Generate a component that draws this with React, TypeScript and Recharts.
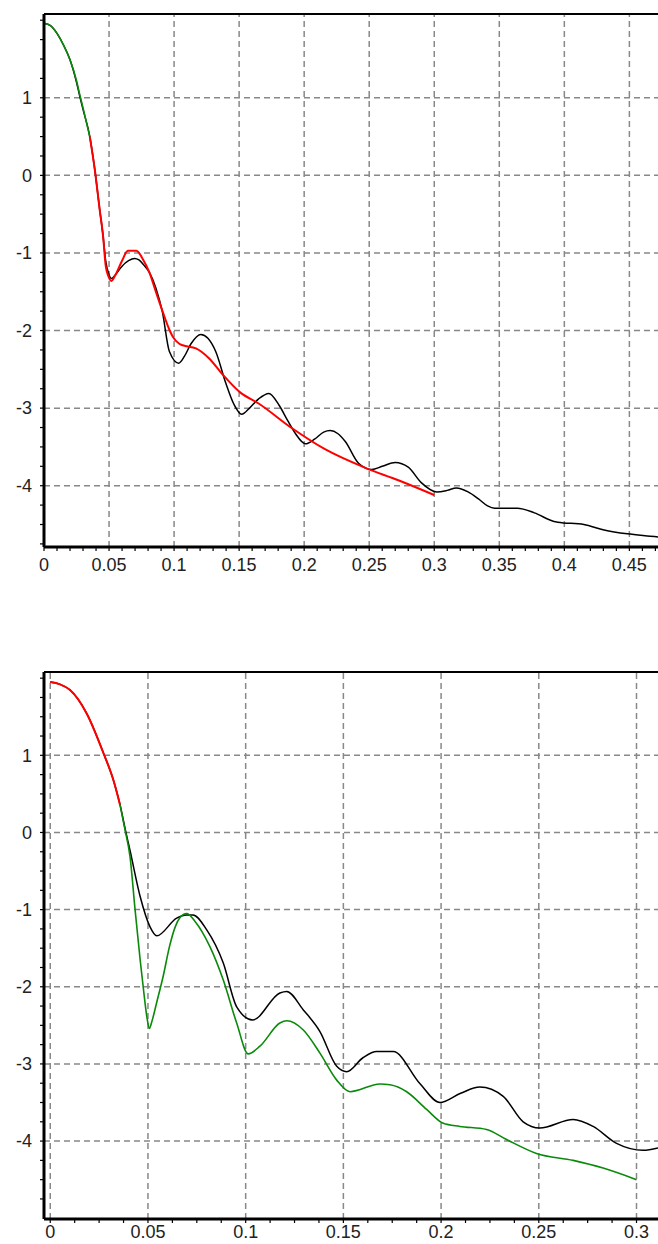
import React from 'react';
import { LineChart, Line, XAxis, YAxis, ReferenceLine } from 'recharts';

// ---------- Top chart data (x, value) ----------
const topBlack: [number, number][] = [
  [0, 1.96], [0.005, 1.93], [0.01, 1.83], [0.015, 1.68], [0.02, 1.49], [0.025, 1.2],
  [0.0275, 1.02], [0.03, 0.85], [0.0352, 0.5], [0.039, 0.08], [0.0428, -0.44],
  [0.0454, -0.78], [0.0474, -1.1], [0.05, -1.28], [0.0518, -1.33], [0.055, -1.28],
  [0.06, -1.17], [0.065, -1.1], [0.0696, -1.07], [0.073, -1.09], [0.077, -1.16],
  [0.081, -1.25], [0.086, -1.45], [0.091, -1.76], [0.0964, -2.27], [0.1035, -2.42],
  [0.108, -2.33], [0.113, -2.17], [0.1206, -2.05], [0.126, -2.1], [0.132, -2.27],
  [0.1398, -2.68], [0.146, -2.95], [0.152, -3.08], [0.158, -3.0], [0.165, -2.88],
  [0.1729, -2.81], [0.1806, -2.96], [0.187, -3.15], [0.193, -3.32], [0.201, -3.46],
  [0.208, -3.4], [0.215, -3.31], [0.22, -3.29], [0.226, -3.33], [0.2316, -3.43],
  [0.2418, -3.71], [0.252, -3.79], [0.26, -3.75], [0.27, -3.7], [0.28, -3.76],
  [0.29, -3.96], [0.302, -4.08], [0.31, -4.06], [0.317, -4.03], [0.326, -4.08],
  [0.334, -4.17], [0.341, -4.26], [0.3464, -4.29], [0.364, -4.29], [0.377, -4.35],
  [0.392, -4.46], [0.395, -4.47], [0.415, -4.5], [0.4305, -4.57], [0.4484, -4.62],
  [0.466, -4.65], [0.472, -4.66],
];
const topGreen: [number, number][] = [
  [0, 1.96], [0.005, 1.93], [0.01, 1.83], [0.015, 1.68], [0.02, 1.49], [0.025, 1.22],
  [0.0275, 1.04], [0.03, 0.87], [0.0352, 0.5],
];
const topRed: [number, number][] = [
  [0.0352, 0.5], [0.039, 0.08], [0.0428, -0.44], [0.0454, -0.78], [0.0474, -1.16],
  [0.0495, -1.3], [0.0518, -1.36], [0.055, -1.28], [0.06, -1.1], [0.0645, -0.97],
  [0.071, -0.97], [0.076, -1.08], [0.081, -1.25], [0.086, -1.5], [0.0913, -1.76],
  [0.0964, -1.99], [0.099, -2.08], [0.104, -2.17], [0.1066, -2.19], [0.1168, -2.23],
  [0.127, -2.36], [0.137, -2.56], [0.151, -2.8], [0.165, -2.94], [0.1907, -3.26],
  [0.216, -3.53], [0.247, -3.77], [0.2724, -3.93], [0.3, -4.12],
];

// ---------- Bottom chart data ----------
const botBlack: [number, number][] = [
  [0, 1.95], [0.005, 1.92], [0.01, 1.85], [0.0187, 1.54], [0.0272, 1.03], [0.0323, 0.68],
  [0.0357, 0.36], [0.0383, 0.05], [0.0408, -0.23], [0.046, -0.83], [0.051, -1.22],
  [0.0545, -1.34], [0.0647, -1.11], [0.0698, -1.07], [0.073, -1.07], [0.08, -1.26],
  [0.0885, -1.69], [0.0954, -2.26], [0.1035, -2.43], [0.1175, -2.08], [0.121, -2.06],
  [0.1295, -2.3], [0.138, -2.58], [0.1466, -3.03], [0.1517, -3.1], [0.16, -2.92],
  [0.167, -2.84], [0.1755, -2.84], [0.189, -3.25], [0.1994, -3.5], [0.21, -3.38],
  [0.2198, -3.3], [0.2318, -3.42], [0.242, -3.75], [0.2505, -3.83], [0.2676, -3.72],
  [0.2778, -3.81], [0.2898, -4.03], [0.3034, -4.12], [0.311, -4.09],
];
const botRed: [number, number][] = [
  [0, 1.95], [0.005, 1.92], [0.01, 1.85], [0.0187, 1.54], [0.0272, 1.03], [0.0323, 0.68],
  [0.0357, 0.36],
];
const botGreen: [number, number][] = [
  [0.0357, 0.36], [0.0383, 0.03], [0.0408, -0.31], [0.0434, -1.0], [0.046, -1.65],
  [0.048, -2.1], [0.0495, -2.4], [0.0507, -2.54], [0.052, -2.45], [0.0545, -2.2],
  [0.0579, -1.85], [0.061, -1.48], [0.064, -1.22], [0.0665, -1.1], [0.0698, -1.05],
  [0.074, -1.15], [0.0817, -1.48], [0.0885, -1.91], [0.0954, -2.47], [0.1013, -2.87],
  [0.1073, -2.77], [0.1175, -2.47], [0.121, -2.44], [0.1295, -2.56], [0.138, -2.86],
  [0.1466, -3.21], [0.1534, -3.36], [0.1687, -3.26], [0.1738, -3.27], [0.1824, -3.36],
  [0.1926, -3.59], [0.2011, -3.77], [0.2096, -3.81], [0.2233, -3.85], [0.2335, -3.98],
  [0.2488, -4.16], [0.2676, -4.25], [0.2829, -4.35], [0.3, -4.5],
];

// ---------- Axes ----------
const topXMajor = [0, 0.05, 0.1, 0.15, 0.2, 0.25, 0.3, 0.35, 0.4, 0.45];
const topXLabels = ['0', '0.05', '0.1', '0.15', '0.2', '0.25', '0.3', '0.35', '0.4', '0.45'];
const botXMajor = [0, 0.05, 0.1, 0.15, 0.2, 0.25, 0.3];
const botXLabels = ['0', '0.05', '0.1', '0.15', '0.2', '0.25', '0.3'];
const yMajor = [-4, -3, -2, -1, 0, 1];
const yLabels = ['-4', '-3', '-2', '-1', '0', '1'];

const topXDomain: [number, number] = [0, 0.472];
const topYDomain: [number, number] = [-4.79, 2.08];
const botXDomain: [number, number] = [-0.0032, 0.311];
const botYDomain: [number, number] = [-5.01, 2.08];

const steps = (from: number, to: number, step: number) => {
  const out: number[] = [];
  for (let i = 0; from + i * step <= to + 1e-9; i++) out.push(+(from + i * step).toFixed(5));
  return out;
};

const toRows = (pts: [number, number][]) => pts.map(([x, y]) => ({ x, y }));

const FONT = '"Liberation Sans", Arial, sans-serif';
const GRID = '#888888';

const makeTick = (majors: number[], labels: string[], axis: 'x' | 'y') => (props: any) => {
  const { x, y, payload } = props;
  const i = majors.findIndex((m) => Math.abs(m - payload.value) < 1e-6);
  if (i < 0) return <g />;
  if (axis === 'x') {
    return (
      <text x={x} y={y} dy="0.71em" textAnchor="middle" fontFamily={FONT} fontSize={18} fill="#222">
        {labels[i]}
      </text>
    );
  }
  return (
    <text x={x} y={y} dy="0.35em" textAnchor="end" fontFamily={FONT} fontSize={18} fill="#222">
      {labels[i]}
    </text>
  );
};

type PanelProps = {
  height: number;
  top: number;
  xDomain: [number, number];
  yDomain: [number, number];
  xMajor: number[];
  xLabels: string[];
  xMinorStep: number;
  xTickMargin: number;
  series: { pts: [number, number][]; color: string; width: number }[];
};

function Panel({ height, top, xDomain, yDomain, xMajor, xLabels, xMinorStep, xTickMargin, series }: PanelProps) {
  const xTicks = steps(0, xDomain[1], xMinorStep);
  const yTicks = steps(-4.75, 2.0, 0.25).filter((v) => v >= yDomain[0]);
  return (
    <LineChart width={658} height={height} margin={{ top, right: 0, left: 0, bottom: 0 }}>
      <XAxis
        type="number"
        dataKey="x"
        domain={xDomain}
        allowDataOverflow
        ticks={xTicks}
        interval={0}
        height={30}
        axisLine={{ stroke: '#000', strokeWidth: 3 }}
        tickLine={{ stroke: '#000', strokeWidth: 1.2 }}
        tickSize={4}
        tickMargin={xTickMargin}
        tick={makeTick(xMajor, xLabels, 'x')}
      />
      <YAxis
        type="number"
        dataKey="y"
        domain={yDomain}
        allowDataOverflow
        ticks={yTicks}
        interval={0}
        width={44}
        axisLine={{ stroke: '#000', strokeWidth: 3 }}
        tickLine={{ stroke: '#000', strokeWidth: 1.2 }}
        tickSize={4}
        tickMargin={8}
        tick={makeTick(yMajor, yLabels, 'y')}
      />
      {xMajor.map((v) => (
        <ReferenceLine key={'gx' + v} x={v} stroke={GRID} strokeWidth={1.5} strokeDasharray="6 4" zIndex={-50} />
      ))}
      {yMajor.map((v) => (
        <ReferenceLine key={'gy' + v} y={v} stroke={GRID} strokeWidth={1.5} strokeDasharray="6 4" zIndex={-50} />
      ))}
      <ReferenceLine y={yDomain[1]} stroke="#000" strokeWidth={2} />
      {series.map((s, i) => (
        <Line
          key={i}
          data={toRows(s.pts)}
          dataKey="y"
          type="monotone"
          dot={false}
          activeDot={false}
          stroke={s.color}
          strokeWidth={s.width}
          isAnimationActive={false}
        />
      ))}
    </LineChart>
  );
}

export default function App() {
  return (
    <div style={{ position: 'absolute', left: 0, top: 0, width: 658, height: 1244, background: '#fff', overflow: 'hidden' }}>
      <div style={{ position: 'absolute', left: 0, top: 0 }}>
        <Panel
          height={577}
          top={14}
          xDomain={topXDomain}
          yDomain={topYDomain}
          xMajor={topXMajor}
          xLabels={topXLabels}
          xMinorStep={0.01}
          xTickMargin={7}
          series={[
            { pts: topBlack, color: '#000000', width: 1.5 },
            { pts: topGreen, color: '#0a8a0a', width: 1.6 },
            { pts: topRed, color: '#ff0000', width: 2 },
          ]}
        />
      </div>
      <div style={{ position: 'absolute', left: 0, top: 600 }}>
        <Panel
          height={649}
          top={72}
          xDomain={botXDomain}
          yDomain={botYDomain}
          xMajor={botXMajor}
          xLabels={botXLabels}
          xMinorStep={0.0125}
          xTickMargin={2}
          series={[
            { pts: botBlack, color: '#000000', width: 1.5 },
            { pts: botRed, color: '#ff0000', width: 2 },
            { pts: botGreen, color: '#0a8a0a', width: 1.6 },
          ]}
        />
      </div>
    </div>
  );
}
